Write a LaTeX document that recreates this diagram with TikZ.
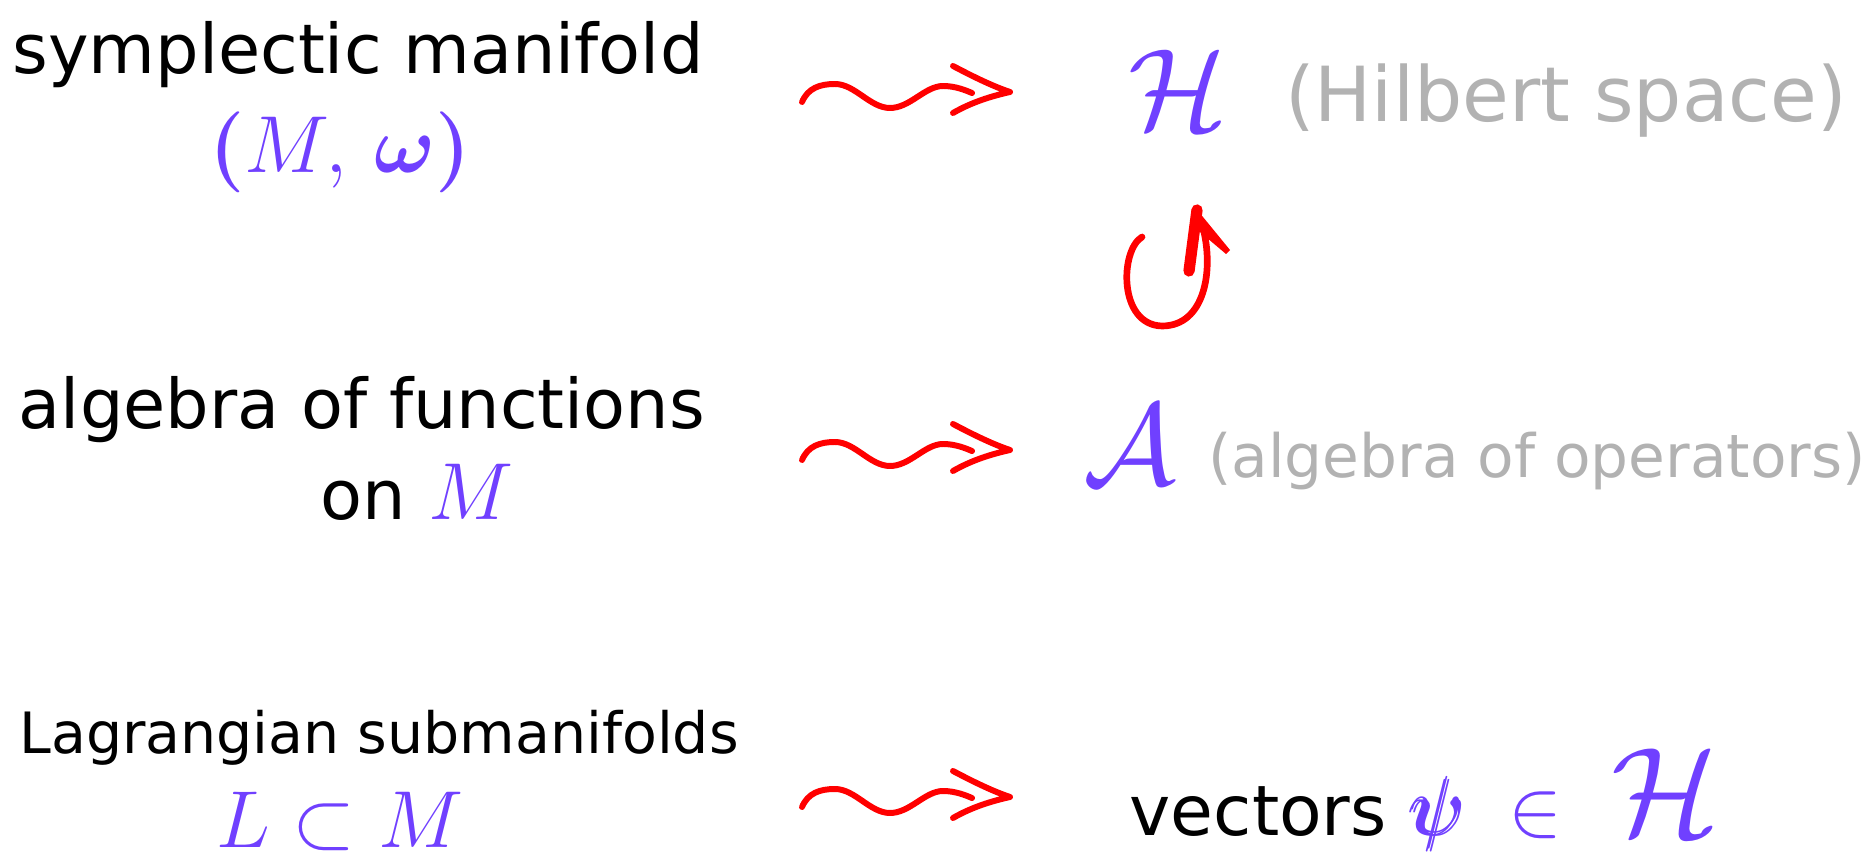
\RequirePackage{fix-cm}
\documentclass[tikz,border=0pt]{standalone}
\usepackage{amsmath}
\usepackage{fontspec}
\setmainfont{DejaVu Sans}
\usetikzlibrary{calc}
\definecolor{MathClr}{RGB}{112,64,255}
\definecolor{NoteClr}{RGB}{178,178,178}
\definecolor{ArrowClr}{RGB}{255,0,0}

\tikzset{
  txt/.style={inner sep=0pt,anchor=base,font=\fontsize{19.5}{22}\selectfont},
  smalltxt/.style={txt,font=\fontsize{16.2}{19}\selectfont},
  note/.style={txt,text=NoteClr},
  mth/.style={txt,text=MathClr,font=\fontsize{23}{26}\selectfont},
  bigmth/.style={txt,text=MathClr,font=\fontsize{33}{36}\selectfont},
  squig/.style={draw=ArrowClr,line width=1.7pt,line cap=round,line join=round},
  loopln/.style={draw=ArrowClr,line width=1.9pt,line cap=round},
}

% wavy arrow, drawn from its left end
\newcommand{\squiggle}[1]{%
  \draw[squig,shift={(#1)}] (0,10) .. controls (6,-4) and (18,-8) .. (33,-8)
    .. controls (53,-8) and (68,16) .. (88,16)
    .. controls (108,16) and (123,-6) .. (141,-6)
    .. controls (153,-6) and (163,-2) .. (170,1);
  \draw[squig,shift={(#1)}] (151,-26) .. controls (170,-16) and (190,-6) .. (208,0)
    .. controls (190,4) and (170,10) .. (151,21);
}

\begin{document}
\begin{tikzpicture}[x=0.01cm,y=-0.01cm]
\useasboundingbox (0,0) rectangle (1872,858);

% classical side
\node[txt] (sym) at (358,74) {symplectic manifold};
\node[mth] (mw) at (340,173) {$\boldsymbol{(}M,\,\boldsymbol{\omega}\boldsymbol{)}$};
\node[txt] (alg) at (362,429) {algebra of functions};
\node[txt] (onm) at (417,520) {on \textcolor{MathClr}{\fontsize{23}{26}\selectfont$M$}};
\node[smalltxt] (lag) at (379,753) {Lagrangian submanifolds};
\node[mth] (lm) at (340,847) {$L\subset M$};

% quantum side
\node[bigmth] (hilb) at (1178,130) {$\mathcal{H}$};
\node[note,font=\fontsize{21.6}{24}\selectfont] (hnote) at (1566,122) {(Hilbert space)};
\node[bigmth] (alga) at (1130,485) {$\mathcal{A}$};
\node[note,font=\fontsize{17}{20}\selectfont] (anote) at (1537,478) {(algebra of operators)};
\node[txt,anchor=base west,font=\fontsize{19.8}{22}\selectfont] (vecs) at (1129,835)
  {vectors\hspace{7pt}\textcolor{MathClr}{\fontsize{23}{26}\selectfont$\pmb{\psi}$\hspace{12pt}$\in$\hspace{14pt}{\fontsize{36}{39}\selectfont$\mathcal{H}$}}};

% quantization arrows
\coordinate (q1) at (802,92);
\coordinate (q2) at (802,450);
\coordinate (q3) at (802,797);
\squiggle{q1}
\squiggle{q2}
\squiggle{q3}

% A acts on H
\draw[loopln] (1142,237) .. controls (1120,250) and (1118,325) .. (1162,326)
  .. controls (1205,326) and (1214,270) .. (1203,228);
\draw[loopln,line width=3.2pt] (1197,210) -- (1189,271);
\fill[ArrowClr] (1194,206) -- (1230,250) -- (1226,254) -- (1200,232) -- cycle;

\end{tikzpicture}
\end{document}
